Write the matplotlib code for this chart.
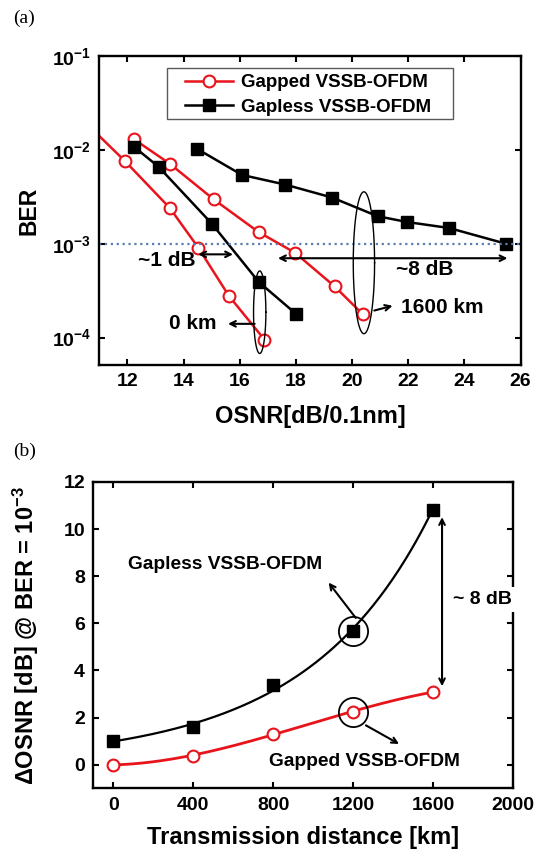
import numpy as np
import matplotlib
matplotlib.use('Agg')
import matplotlib.pyplot as plt
from matplotlib.patches import Rectangle
from matplotlib.ticker import NullLocator, FixedLocator

plt.rcParams['font.family'] = ['Liberation Sans', 'DejaVu Sans']
plt.rcParams['font.weight'] = 'bold'
plt.rcParams['mathtext.fontset'] = 'custom'
plt.rcParams['mathtext.bf'] = 'Liberation Sans:bold'
plt.rcParams['mathtext.rm'] = 'Liberation Sans:bold'
plt.rcParams['mathtext.default'] = 'bf'

# (a) BER vs OSNR
gapped_0_osnr = [10.5, 11.91, 13.51, 14.52, 15.62, 16.88]
gapped_0_ber = [1.96e-2, 7.6e-3, 2.4e-3, 9.1e-4, 2.76e-4, 9.5e-5]
gapped_1600_osnr = [12.23, 13.51, 15.07, 16.67, 17.97, 19.38, 20.38]
gapped_1600_ber = [1.3e-2, 7.1e-3, 2.97e-3, 1.33e-3, 8.0e-4, 3.5e-4, 1.77e-4]
gapless_0_osnr = [12.23, 13.11, 15.0, 16.68, 18.0]
gapless_0_ber = [1.08e-2, 6.6e-3, 1.64e-3, 3.9e-4, 1.79e-4]
gapless_1600_osnr = [14.49, 16.08, 17.61, 19.29, 20.91, 21.97, 23.45, 25.47]
gapless_1600_ber = [1.02e-2, 5.4e-3, 4.27e-3, 3.1e-3, 1.96e-3, 1.7e-3, 1.47e-3, 1.0e-3]
ber_threshold = 1e-3

# (b) OSNR penalty vs distance
distance = [0, 400, 800, 1200, 1600]
gapless_penalty = [1.02, 1.60, 3.40, 5.69, 10.81]
gapped_penalty = [0.0, 0.38, 1.32, 2.24, 3.09]

red = '#e8141b'
fig = plt.figure(figsize=(5.34, 8.52), dpi=100)


def style_axes(ax):
    for s in ax.spines.values():
        s.set_linewidth(1.7)
    ax.tick_params(direction='in', top=True, right=True, length=4.5, width=1.5,
                   labelsize=14, pad=6)


ax1 = fig.add_axes([0.186, 0.5716, 0.789, 0.3627])
ax1.set_yscale('log')
ax1.plot(gapped_0_osnr, gapped_0_ber, '-o', color=red, lw=1.8, ms=8.5,
         mfc='white', mew=1.5, label='Gapped VSSB-OFDM')
ax1.plot(gapped_1600_osnr, gapped_1600_ber, '-o', color=red, lw=1.8, ms=8.5,
         mfc='white', mew=1.5)
ax1.plot(gapless_0_osnr, gapless_0_ber, '-s', color='black', lw=1.8, ms=8.5,
         label='Gapless VSSB-OFDM')
ax1.plot(gapless_1600_osnr, gapless_1600_ber, '-s', color='black', lw=1.8, ms=8.5)
ax1.axhline(ber_threshold, color='#5b7fb0', ls=':', lw=1.6)
ax1.set_xlim(11, 26)
ax1.set_ylim(5.1e-5, 1e-1)
ax1.xaxis.set_major_locator(FixedLocator(np.arange(12, 27, 2)))
ax1.yaxis.set_major_locator(FixedLocator([1e-4, 1e-3, 1e-2, 1e-1]))
ax1.yaxis.set_minor_locator(NullLocator())
style_axes(ax1)
ax1.set_xlabel('OSNR[dB/0.1nm]', fontsize=17, fontweight='bold')
ax1.xaxis.set_label_coords(0.5, -0.13)
ax1.set_ylabel('BER', fontsize=16.5, fontweight='bold')
ax1.yaxis.set_label_coords(-0.14, 0.5)

# legend box is wider than the entries, so the frame is drawn separately
ax1.add_patch(Rectangle((0.161, 0.796), 0.678, 0.165, transform=ax1.transAxes,
                        facecolor='white', edgecolor='0.35', lw=1.0, zorder=4))
leg = ax1.legend(loc='center', bbox_to_anchor=(0.495, 0.874), fontsize=13.5,
                 handlelength=2.6, handletextpad=0.4, labelspacing=0.4,
                 borderpad=0, frameon=False)
leg.set_zorder(5)

# grouping ellipses drawn in log space
t = np.linspace(0, 2 * np.pi, 200)
for cx, a, cy, b in [(16.71, 0.22, -3.73, 0.44), (20.42, 0.38, -3.203, 0.756)]:
    ax1.plot(cx + a * np.cos(t), 10 ** (cy + b * np.sin(t)), color='black', lw=1.0)

arr = dict(arrowstyle='->', color='black', lw=1.5, shrinkA=0, shrinkB=0)
darr = dict(arrowstyle='<->', color='black', lw=1.5, shrinkA=0, shrinkB=0)
ax1.annotate('', xy=(14.52, 7.7e-4), xytext=(15.76, 7.7e-4), arrowprops=darr)
ax1.annotate('', xy=(17.36, 7.0e-4), xytext=(25.53, 7.0e-4), arrowprops=darr)
ax1.text(13.39, 6.7e-4, '~1 dB', fontsize=15, ha='center', va='center')
ax1.text(22.57, 5.3e-4, '~8 dB', fontsize=15, ha='center', va='center')
ax1.annotate('', xy=(15.58, 1.4e-4), xytext=(16.53, 1.4e-4), arrowprops=arr)
ax1.text(14.34, 1.4e-4, '0 km', fontsize=15, ha='center', va='center')
ax1.annotate('', xy=(21.44, 2.18e-4), xytext=(20.79, 1.94e-4), arrowprops=arr)
ax1.text(21.74, 2.07e-4, '1600 km', fontsize=15, ha='left', va='center')

# (b)
ax2 = fig.add_axes([0.175, 0.0748, 0.7856, 0.3595])
xs = np.linspace(0, 1600, 200)
fit_gapless = np.polyfit(distance, np.log(gapless_penalty), 2)
fit_gapped = np.polyfit(distance, gapped_penalty, 3)
ax2.plot(xs, np.exp(np.polyval(fit_gapless, xs)), color='black', lw=1.6)
ax2.plot(xs, np.polyval(fit_gapped, xs), color=red, lw=2.0)
ax2.plot(distance, gapless_penalty, 's', color='black', ms=8.5)
ax2.plot(distance, gapped_penalty, 'o', color=red, ms=8.5, mfc='white', mew=1.5)
ax2.plot(distance[3], gapless_penalty[3], 'o', ms=21, mfc='none', mec='black', mew=1.3)
ax2.plot(distance[3], gapped_penalty[3], 'o', ms=21, mfc='none', mec='black', mew=1.3)
ax2.set_xlim(-100, 2000)
ax2.set_ylim(-1, 12)
ax2.xaxis.set_major_locator(FixedLocator(np.arange(0, 2001, 400)))
ax2.yaxis.set_major_locator(FixedLocator(np.arange(0, 13, 2)))
style_axes(ax2)
ax2.set_xlabel('Transmission distance [km]', fontsize=17, fontweight='bold')
ax2.xaxis.set_label_coords(0.5, -0.122)
ax2.set_ylabel('ΔOSNR [dB] @ BER = 10$^{-3}$', fontsize=17, fontweight='bold')
ax2.yaxis.set_label_coords(-0.125, 0.5)

ax2.text(72, 8.5, 'Gapless VSSB-OFDM', fontsize=13.8, ha='left', va='center')
ax2.annotate('', xy=(1077, 7.73), xytext=(1213, 6.23), arrowprops=arr)
ax2.text(779, 0.14, 'Gapped VSSB-OFDM', fontsize=13.8, ha='left', va='center')
ax2.annotate('', xy=(1430, 0.88), xytext=(1264, 1.67), arrowprops=arr)
ax2.annotate('', xy=(1645, 10.51), xytext=(1645, 3.33), arrowprops=darr)
ax2.text(1700, 7.0, '~ 8 dB', fontsize=14, ha='left', va='center', zorder=5,
         bbox=dict(facecolor='white', edgecolor='none', pad=3))

fig.text(0.025, 1 - 18 / 852, '(a)', family='Liberation Serif', fontweight='normal',
         fontsize=14, va='center', ha='left')
fig.text(0.025, 1 - 451 / 852, '(b)', family='Liberation Serif', fontweight='normal',
         fontsize=14, va='center', ha='left')

fig.savefig('out.png', dpi=100)
